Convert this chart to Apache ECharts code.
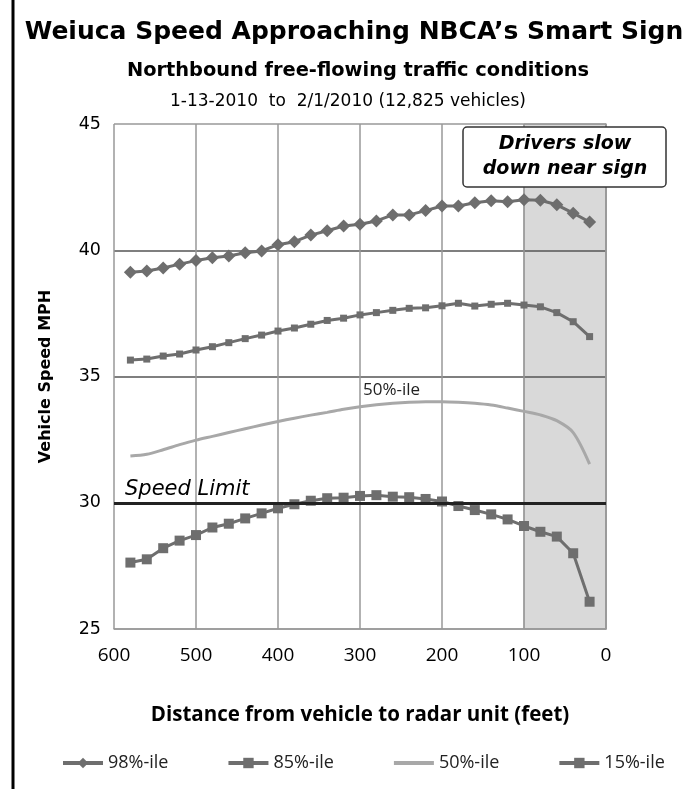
<!DOCTYPE html>
<html>
<head>
<meta charset="utf-8">
<script src="https://cdn.jsdelivr.net/npm/echarts@6/dist/echarts.min.js"></script>
<style>
  html, body { margin: 0; padding: 0; background: #fff; }
  #main { width: 690px; height: 789px; }
</style>
</head>
<body>
<div id="main"></div>
<script>
// distance from radar unit, feet
var distances = [580, 560, 540, 520, 500, 480, 460, 440, 420, 400, 380, 360, 340, 320, 300,
                 280, 260, 240, 220, 200, 180, 160, 140, 120, 100, 80, 60, 40, 20];

// percentile speeds, mph
var p98 = [39.13, 39.18, 39.3, 39.45, 39.59, 39.7, 39.77, 39.9, 39.97, 40.22, 40.34, 40.6, 40.77, 40.96, 41.03,
           41.16, 41.4, 41.4, 41.57, 41.75, 41.75, 41.88, 41.96, 41.92, 42.0, 41.98, 41.8, 41.47, 41.12];
var p85 = [35.65, 35.69, 35.81, 35.89, 36.05, 36.18, 36.34, 36.5, 36.64, 36.8, 36.92, 37.07, 37.22, 37.31, 37.44,
           37.53, 37.62, 37.7, 37.72, 37.8, 37.9, 37.79, 37.86, 37.9, 37.83, 37.76, 37.53, 37.17, 36.58];
var p50 = [31.85, 31.92, 32.1, 32.3, 32.48, 32.63, 32.78, 32.93, 33.08, 33.22, 33.35, 33.47, 33.58, 33.7, 33.8,
           33.88, 33.94, 33.98, 34.0, 34.0, 33.98, 33.94, 33.87, 33.75, 33.62, 33.48, 33.25, 32.78, 31.53];
var p15 = [27.63, 27.76, 28.2, 28.5, 28.72, 29.02, 29.17, 29.38, 29.58, 29.78, 29.94, 30.08, 30.18, 30.2, 30.27,
           30.3, 30.24, 30.22, 30.15, 30.05, 29.87, 29.71, 29.54, 29.34, 29.08, 28.85, 28.66, 28.0, 26.08];

var seriesNames = ['98%-ile', '85%-ile', '50%-ile', '15%-ile'];
var speedLimit = 30;
var signZone = [100, 0];

var VERDANA = 'DejaVu Sans';
var CALIBRI = 'Open Sans';
var DARK = '#6e6e6e';
var LIGHT = '#a8a8a8';

function pairs(vals) {
    return distances.map(function (d, i) { return [d, vals[i]]; });
}

var chart = echarts.init(document.getElementById('main'));

var option = {
    backgroundColor: '#fff',
    animation: false,
    title: [{
        text: 'Weiuca Speed Approaching NBCA\u2019s Smart Sign',
        left: 349, top: 15, textAlign: 'center',
        textStyle: { fontFamily: VERDANA, fontWeight: 'bold', fontSize: 25, color: '#000' }
    }, {
        text: 'Northbound free-flowing traffic conditions',
        left: 353, top: 56, textAlign: 'center',
        textStyle: { fontFamily: VERDANA, fontWeight: 'bold', fontSize: 19.4, color: '#000' }
    }, {
        text: '1-13-2010  to  2/1/2010 (12,825 vehicles)',
        left: 343, top: 88, textAlign: 'center',
        textStyle: { fontFamily: VERDANA, fontWeight: 'normal', fontSize: 17, color: '#000' }
    }],
    grid: { left: 114, right: 84, top: 124, bottom: 160 },
    legend: {
        data: [
            '98%-ile',
            '85%-ile',
            { name: '50%-ile', itemStyle: { opacity: 0 } },
            '15%-ile'
        ],
        top: 749,
        left: 56,
        itemWidth: 40,
        itemHeight: 13,
        itemGap: 58,
        lineStyle: { width: 4 },
        textStyle: { fontFamily: CALIBRI, fontSize: 18, color: '#222' }
    },
    xAxis: {
        type: 'value',
        inverse: true,
        min: 0, max: 600, interval: 100,
        name: 'Distance from vehicle to radar unit (feet)',
        nameLocation: 'middle',
        nameGap: 76,
        nameTextStyle: { fontFamily: CALIBRI, fontWeight: 'bold', fontSize: 20.5, color: '#000' },
        axisLine: { show: true, lineStyle: { color: '#999', width: 1.5 } },
        axisTick: { show: false },
        axisLabel: { margin: 17, fontFamily: CALIBRI, fontSize: 19, color: '#000' },
        splitLine: { show: true, lineStyle: { color: '#999', width: 1.5 } }
    },
    yAxis: {
        type: 'value',
        min: 25, max: 45, interval: 5,
        name: 'Vehicle Speed MPH',
        nameLocation: 'middle',
        nameGap: 60,
        nameTextStyle: { fontFamily: VERDANA, fontWeight: 'bold', fontSize: 16, color: '#000' },
        axisLine: { show: true, lineStyle: { color: '#999', width: 1.5 } },
        axisTick: { show: false },
        axisLabel: { margin: 13, fontFamily: VERDANA, fontSize: 17.5, color: '#000' },
        splitLine: { show: true, lineStyle: { color: ['#999', '#000', '#555', '#555', '#999'], width: 1.5 } }
    },
    graphic: [{
        type: 'line', z: 100,
        shape: { x1: 13, y1: 0, x2: 13, y2: 789 },
        style: { stroke: '#000', lineWidth: 3 }
    }, {
        type: 'rect', z: 100,
        shape: { x: 463, y: 127, width: 203, height: 60, r: 4 },
        style: { fill: '#fff', stroke: '#333', lineWidth: 1.5 }
    }, {
        type: 'text', z: 101, x: 565, y: 157,
        style: {
            text: 'Drivers slow\ndown near sign',
            font: 'italic bold 19px "DejaVu Sans"',
            fill: '#000', align: 'center', verticalAlign: 'middle', lineHeight: 25
        }
    }, {
        type: 'text', left: 363, top: 382, z: 100,
        style: { text: '50%-ile', font: '17px "Open Sans"', fill: '#222' }
    }],
    series: [{
        // shaded zone near the sign, kept under the grid lines
        name: 'zone', type: 'line', data: [], z: -1,
        markArea: {
            silent: true, z: -1,
            itemStyle: { color: '#d9d9d9', borderColor: '#999', borderWidth: 1 },
            data: [[{ xAxis: signZone[0] }, { xAxis: signZone[1] }]]
        }
    }, {
        name: '98%-ile', type: 'line', data: pairs(p98),
        symbol: 'diamond', symbolSize: 13,
        itemStyle: { color: DARK },
        lineStyle: { color: DARK, width: 3 }
    }, {
        name: '85%-ile', type: 'line', data: pairs(p85),
        symbol: 'rect', symbolSize: 7,
        itemStyle: { color: DARK },
        lineStyle: { color: DARK, width: 3 }
    }, {
        name: '50%-ile', type: 'line', data: pairs(p50),
        symbol: 'none', smooth: 0.3,
        itemStyle: { color: LIGHT },
        lineStyle: { color: LIGHT, width: 3 }
    }, {
        name: '15%-ile', type: 'line', data: pairs(p15),
        symbol: 'rect', symbolSize: 10,
        itemStyle: { color: DARK },
        lineStyle: { color: DARK, width: 3 },
        markLine: {
            silent: true, symbol: 'none',
            lineStyle: { color: '#222', width: 3, type: 'solid' },
            label: {
                show: true, position: 'insideEndTop', formatter: 'Speed Limit',
                fontFamily: VERDANA, fontStyle: 'italic', fontSize: 21, color: '#000',
                distance: 3, padding: [0, 0, 0, 8]
            },
            data: [{ yAxis: speedLimit }]
        }
    }]
};

chart.setOption(option);
</script>
</body>
</html>
